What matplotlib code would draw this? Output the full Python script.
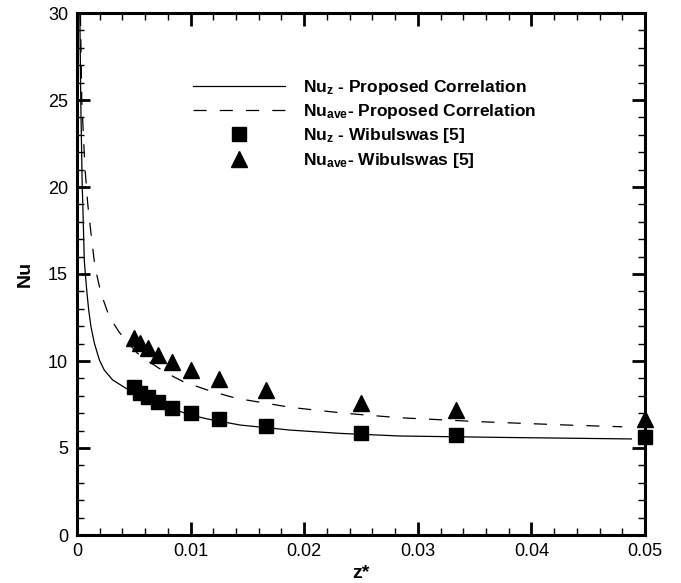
import matplotlib
matplotlib.use("Agg")
import matplotlib.pyplot as plt
from matplotlib.ticker import MultipleLocator, FuncFormatter

plt.rcParams['font.family'] = ['Liberation Sans', 'DejaVu Sans']
plt.rcParams['mathtext.fontset'] = 'custom'
plt.rcParams['mathtext.rm'] = 'Liberation Sans'
plt.rcParams['mathtext.bf'] = 'Liberation Sans:bold'
plt.rcParams['mathtext.default'] = 'bf'

# Proposed correlation curves
corr_z_x = [0.00025, 0.00033, 0.00046, 0.0005, 0.00064, 0.00073, 0.00088, 0.00103,
            0.00123, 0.00153, 0.00197, 0.0024, 0.00314, 0.00431, 0.005, 0.0065,
            0.008, 0.01, 0.0114, 0.01435, 0.01875, 0.02315, 0.0284, 0.0372, 0.0488]
corr_z_y = [30, 25, 20, 19.25, 15.8, 15.04, 13.89, 12.93, 11.97, 11.02, 10.06, 9.48,
            8.91, 8.43, 8.2, 7.75, 7.33, 6.90, 6.68, 6.32, 6.03, 5.84, 5.69, 5.61,
            5.52]

corr_ave_x = [0.0003, 0.00042, 0.0005, 0.0007, 0.00094, 0.00123, 0.00158, 0.00211,
              0.00284, 0.0037, 0.0044, 0.0053, 0.0061, 0.0073, 0.0082, 0.00936,
              0.01171, 0.01406, 0.0164, 0.01875, 0.0214, 0.0237, 0.0261, 0.0284,
              0.0355, 0.0431, 0.048]
corr_ave_y = [30, 25, 23.85, 21.1, 19.06, 17.34, 15.42, 13.89, 12.55, 11.67, 11.11,
              10.46, 10.06, 9.55, 9.2, 8.81, 8.28, 7.85, 7.60, 7.34, 7.15, 6.99, 6.86,
              6.74, 6.51, 6.32, 6.22]

# Wibulswas [5] data
wib_z = [0.005, 0.00556, 0.00625, 0.00714, 0.00833, 0.01, 0.0125, 0.01667, 0.025,
         0.03333, 0.05]
wib_nu_z = [8.49, 8.18, 7.95, 7.66, 7.30, 7.03, 6.65, 6.28, 5.88, 5.75, 5.65]
wib_nu_ave = [11.30, 11.02, 10.73, 10.34, 9.93, 9.48, 8.97, 8.33, 7.60, 7.18, 6.65]

labels = [r'Nu$_{z}$ - Proposed Correlation',
          r'Nu$_{ave}$- Proposed Correlation',
          r'Nu$_{z}$ - Wibulswas [5]',
          r'Nu$_{ave}$- Wibulswas [5]']

fig = plt.figure(figsize=(6.81, 5.83), dpi=100)
ax = fig.add_axes([77/681, 48/583, 568/681, 522/583])

l1, = ax.plot(corr_z_x, corr_z_y, color='black', lw=0.9, label=labels[0])
l2, = ax.plot(corr_ave_x, corr_ave_y, color='black', lw=0.9, ls=(0, (10.5, 10.5)),
              label=labels[1])
l3, = ax.plot(wib_z, wib_nu_z, ls='none', marker='s', ms=10, color='black',
              clip_on=False, zorder=5, label=labels[2])
l4, = ax.plot(wib_z, wib_nu_ave, ls='none', marker='^', ms=11, color='black',
              clip_on=False, zorder=5, label=labels[3])

ax.set_xlim(0, 0.05)
ax.set_ylim(0, 30)
ax.xaxis.set_major_locator(MultipleLocator(0.01))
ax.xaxis.set_minor_locator(MultipleLocator(0.002))
ax.yaxis.set_major_locator(MultipleLocator(5))
ax.yaxis.set_minor_locator(MultipleLocator(1))
ax.xaxis.set_major_formatter(FuncFormatter(lambda v, p: '%g' % round(v, 4)))
ax.yaxis.set_major_formatter(FuncFormatter(lambda v, p: '%g' % v))

ax.tick_params(which='both', direction='in', top=True, right=True, labelsize=13)
ax.tick_params(which='major', length=9.5, width=2.0)
ax.tick_params(which='minor', length=5, width=1.0)
ax.tick_params(axis='y', which='major', pad=6.5)
ax.tick_params(axis='x', which='major', pad=5.5)
for s in ax.spines.values():
    s.set_linewidth(2.2)

ax.set_xlabel('z*', fontsize=14, fontweight='bold', labelpad=4)
ax.set_ylabel('Nu', fontsize=14, fontweight='bold', labelpad=10)

leg = ax.legend(handles=[l1, l2, l3, l4], loc='upper left',
                bbox_to_anchor=(193/681, 1 - 78/583), bbox_transform=fig.transFigure,
                frameon=False, prop={'weight': 'bold', 'size': 12.5},
                handlelength=5.3, handletextpad=1.05, labelspacing=0.3,
                borderpad=0, borderaxespad=0, markerscale=1.0)

fig.savefig('out.png', dpi=100)
